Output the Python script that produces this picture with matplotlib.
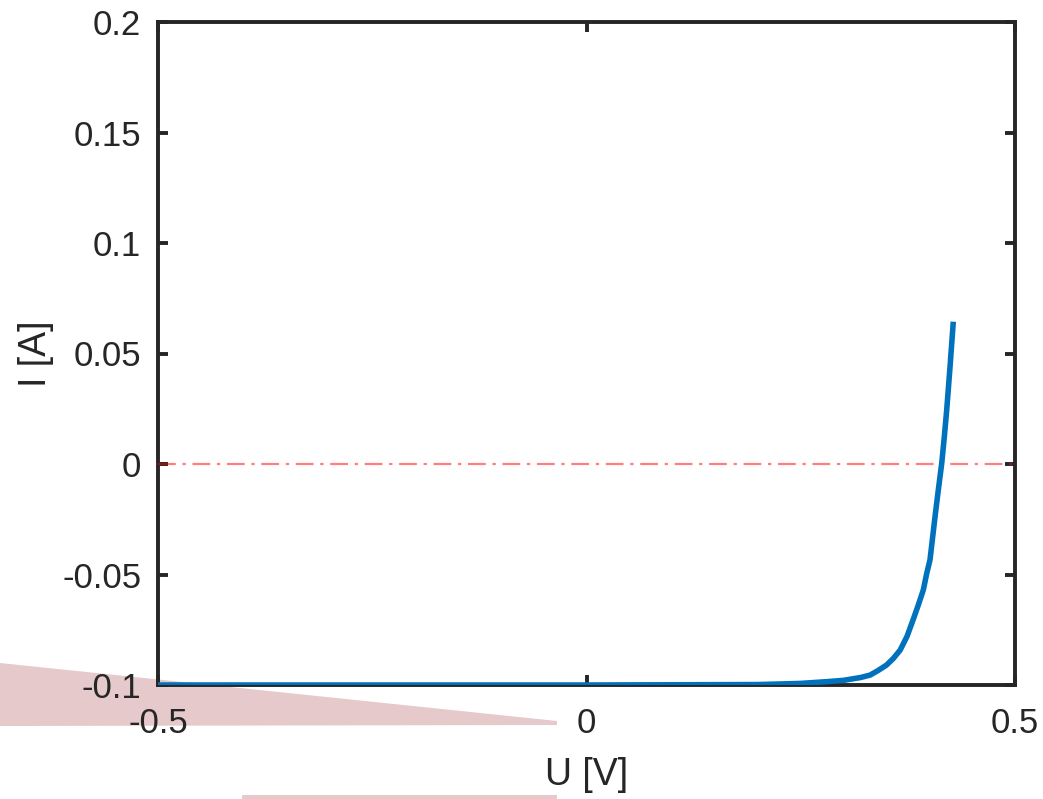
import numpy as np
import matplotlib
matplotlib.use("Agg")
import matplotlib.pyplot as plt
from matplotlib.patches import Polygon

plt.rcParams['font.family'] = ['Liberation Sans', 'DejaVu Sans']
plt.rcParams['axes.unicode_minus'] = False

# solar cell I-U characteristic
voltage = [-0.5, 0.0, 0.2, 0.249, 0.28, 0.30, 0.3075, 0.32, 0.331, 0.34,
           0.350, 0.358, 0.366, 0.374, 0.381, 0.387, 0.393, 0.397, 0.4008,
           0.4067, 0.4105, 0.4145, 0.4175, 0.4203, 0.4242, 0.428]
current = [-0.1, -0.1, -0.0998, -0.0993, -0.0985, -0.0979, -0.0974, -0.0966,
           -0.0955, -0.0935, -0.091, -0.0880, -0.0842, -0.0780, -0.0706,
           -0.0640, -0.057, -0.0495, -0.0434, -0.0238, -0.0118, 0.0003, 0.0122,
           0.0244, 0.044, 0.0644]

x_ticks = [-0.5, 0, 0.5]
x_labels = ['-0.5', '0', '0.5']
y_ticks = [-0.1, -0.05, 0, 0.05, 0.1, 0.15, 0.2]
y_labels = ['-0.1', '-0.05', '0', '0.05', '0.1', '0.15', '0.2']

W, H = 1043, 799
fig = plt.figure(figsize=(W / 100, H / 100), dpi=100)
fig.patch.set_facecolor('white')

# pale wedge and strip sitting behind the lower axis
def px(x, y):
    return (x / W, 1 - y / H)

wedge = Polygon([px(0, 663), px(557, 721), px(557, 725), px(0, 726)],
                closed=True, transform=fig.transFigure, facecolor='#e6c9ca',
                edgecolor='none', zorder=-1)
strip = Polygon([px(242, 795), px(557, 795), px(557, 799), px(242, 799)],
                closed=True, transform=fig.transFigure, facecolor='#e6c9ca',
                edgecolor='none', zorder=-1)
fig.patches.extend([wedge, strip])

ax = fig.add_axes([158 / W, 1 - 685 / H, (1015 - 158) / W, (685 - 22) / H])
ax.set_facecolor('none')

ax.axhline(0, color='red', alpha=0.5, lw=1.6, ls=(0, (8, 3, 1.5, 3)), zorder=3)
ax.plot(voltage, current, color='#0072BD', lw=4, solid_capstyle='butt',
        solid_joinstyle='round', zorder=4)

ax.set_xlim(-0.5, 0.5)
ax.set_ylim(-0.1, 0.2)
ax.set_xticks(x_ticks)
ax.set_xticklabels(x_labels)
ax.set_yticks(y_ticks)
ax.set_yticklabels(y_labels)

dark = '#262626'
for s in ax.spines.values():
    s.set_linewidth(2.8)
    s.set_color(dark)
ax.tick_params(direction='in', length=7, width=2.8, color=dark,
               labelcolor=dark, labelsize=25, top=True, right=True)
ax.tick_params(axis='x', pad=16)
ax.tick_params(axis='y', pad=12)

ax.set_xlabel('U [V]', fontsize=27, color=dark, labelpad=12)
ax.set_ylabel('I [A]', fontsize=27, color=dark, labelpad=6)

fig.savefig('out.png', dpi=100)
